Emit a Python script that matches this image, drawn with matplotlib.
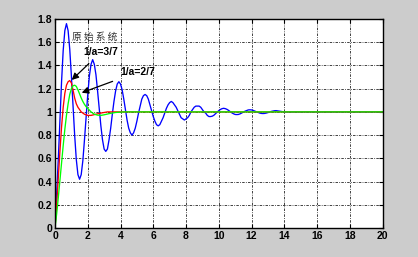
import matplotlib
matplotlib.use('Agg')
import matplotlib.pyplot as plt

# 原始系统 (blue), step 0.1 up to t=13.5
t_orig = [round(0.1 * i, 1) for i in range(136)] + [14.0, 20.0]
y_orig = [0.00, 0.29, 0.59, 0.93, 1.26, 1.53, 1.70, 1.76, 1.70, 1.54,
          1.31, 1.05, 0.80, 0.59, 0.46, 0.42,
          0.46, 0.58, 0.76, 0.96, 1.15, 1.31, 1.41, 1.45, 1.41, 1.32,
          1.18, 1.03, 0.88, 0.76, 0.68, 0.66,
          0.68, 0.76, 0.86, 0.98, 1.09, 1.18, 1.24, 1.26, 1.24, 1.19,
          1.11, 1.02, 0.93, 0.86, 0.82, 0.80,
          0.82, 0.86, 0.92, 0.99, 1.05, 1.11, 1.14, 1.15, 1.14, 1.11,
          1.06, 1.01, 0.96, 0.92, 0.89, 0.88,
          0.89, 0.92, 0.95, 0.99, 1.03, 1.06, 1.08, 1.09, 1.08, 1.06,
          1.04, 1.01, 0.98, 0.95, 0.94, 0.93,
          0.94, 0.95, 0.97, 1.00, 1.02, 1.04, 1.05, 1.05, 1.05, 1.04,
          1.02, 1.00, 0.99, 0.97, 0.96, 0.96,
          0.963, 0.971, 0.984, 0.997, 1.011, 1.021, 1.028, 1.031, 1.028, 1.022,
          1.013, 1.002, 0.992, 0.984, 0.978, 0.977,
          0.978, 0.983, 0.990, 0.998, 1.006, 1.012, 1.017, 1.018, 1.017, 1.013,
          1.007, 1.001, 0.995, 0.990, 0.987, 0.986,
          0.987, 0.990, 0.994, 0.999, 1.004, 1.007, 1.010, 1.011,
          1.0, 1.0]

# 1/a = 3/7 (red)
t_a37 = [0, 0.1, 0.2, 0.3, 0.4, 0.5, 0.6, 0.7, 0.8, 0.9, 1.0, 1.1, 1.2, 1.3,
         1.4, 1.5, 1.6, 1.7, 1.8, 2.0, 2.2, 2.5, 2.8, 3.2, 20]
y_a37 = [0, 0.20, 0.43, 0.66, 0.87, 1.04, 1.16, 1.23, 1.26, 1.27, 1.25, 1.19,
         1.12, 1.07, 1.04, 1.02, 1.00, 0.99, 0.98, 0.97, 0.97, 0.98, 0.99, 1.0, 1.0]

# 1/a = 2/7 (green)
t_a27 = [0, 0.1, 0.2, 0.3, 0.4, 0.5, 0.6, 0.7, 0.8, 0.9, 1.0, 1.1, 1.2, 1.3,
         1.4, 1.5, 1.6, 1.7, 1.8, 1.9, 2.0, 2.1, 2.2, 2.3, 2.4, 2.6, 2.8, 3.0,
         3.3, 3.7, 4.2, 20]
y_a27 = [0, 0.12, 0.26, 0.41, 0.56, 0.71, 0.85, 0.97, 1.07, 1.15, 1.20, 1.225,
         1.23, 1.22, 1.19, 1.155, 1.12, 1.09, 1.065, 1.045, 1.03, 1.015, 1.0,
         0.99, 0.98, 0.972, 0.97, 0.975, 0.985, 0.995, 1.0, 1.0]

plt.rcParams['font.family'] = ['Liberation Sans', 'DejaVu Sans']

fig = plt.figure(figsize=(4.18, 2.57), dpi=100, facecolor='#cccccc')
ax = fig.add_axes([0.1316, 0.1128, 0.7835, 0.8132])
ax.set_facecolor('white')

ax.plot(t_orig, y_orig, color='#0000ff', lw=0.95)
ax.plot(t_a37, y_a37, color='#ff0000', lw=0.95)
ax.plot(t_a27, y_a27, color='#00ff00', lw=0.95)

ax.set_xlim(0, 20)
ax.set_ylim(0, 1.8)
ax.set_xticks(range(0, 21, 2))
ax.set_yticks([0, 0.2, 0.4, 0.6, 0.8, 1, 1.2, 1.4, 1.6, 1.8])
ax.set_yticklabels(['0', '0.2', '0.4', '0.6', '0.8', '1', '1.2', '1.4', '1.6', '1.8'])
ax.grid(True, color='#222222', linestyle=(0, (3, 1.5, 1, 1.5)), lw=0.6)
ax.tick_params(direction='in', length=3, width=0.8, top=True, right=True,
               labelsize=7.5, pad=2)
for lab in ax.get_xticklabels() + ax.get_yticklabels():
    lab.set_fontweight('bold')
for s in ax.spines.values():
    s.set_linewidth(1.0)

ax.text(2.44, 1.645, '原 始 系 统', fontsize=7, color='#333333',
        family=['Noto Sans CJK SC', 'DejaVu Sans'], ha='center', va='center')
ax.annotate('1/a=3/7', xy=(1.02, 1.275), xytext=(2.81, 1.516), fontsize=7.5,
            fontweight='bold', ha='center', va='center',
            arrowprops=dict(arrowstyle='-|>', color='black', lw=0.9,
                            mutation_scale=10, shrinkA=4, shrinkB=0))
ax.annotate('1/a=2/7', xy=(1.63, 1.165), xytext=(5.07, 1.344), fontsize=7.5,
            fontweight='bold', ha='center', va='center',
            arrowprops=dict(arrowstyle='-|>', color='black', lw=0.9,
                            mutation_scale=10, shrinkA=4, shrinkB=0))

fig.savefig('out.png', dpi=100, facecolor=fig.get_facecolor())
